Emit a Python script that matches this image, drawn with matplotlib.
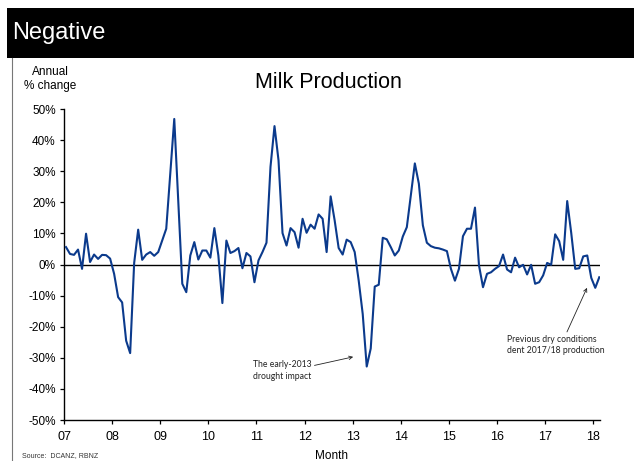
import numpy as np
import matplotlib
matplotlib.use("Agg")
import matplotlib.pyplot as plt
from matplotlib.patches import Rectangle
from matplotlib.lines import Line2D

plt.rcParams['font.family'] = ['Liberation Sans', 'DejaVu Sans']

# Annual % change in milk production, monthly from January 2007
start_year = 2007
milk_growth = [
    5.6, 3.4, 3.1, 4.8, -1.4, 9.9, 0.8, 3.2, 1.8, 3.1, 3.0, 1.9,
    -3.0, -10.5, -12.2, -24.5, -28.5, 0.5, 11.2, 1.5, 3.2, 4.0, 2.8, 4.0,
    7.7, 11.5, 29.0, 46.8, 20.6, -6.2, -8.9, 2.9, 7.2, 1.6, 4.5, 4.5,
    2.2, 11.7, 2.9, -12.4, 7.7, 3.7, 4.3, 5.3, -1.2, 3.7, 2.6, -5.7,
    1.3, 4.0, 7.0, 31.4, 44.5, 33.5, 10.1, 6.1, 11.7, 10.4, 5.4, 14.7,
    10.2, 12.8, 11.5, 16.1, 14.7, 4.0, 21.9, 14.2, 5.3, 3.2, 8.0, 7.2,
    4.0, -5.2, -15.9, -32.8, -27.0, -7.1, -6.5, 8.6, 8.1, 5.6, 2.9, 4.5,
    9.0, 12.0, 22.3, 32.5, 26.0, 12.6, 7.0, 5.9, 5.4, 5.2, 4.8, 4.3,
    -1.4, -5.2, -1.4, 9.1, 11.5, 11.5, 18.3, -0.3, -7.3, -3.0, -2.5, -1.4,
    -0.5, 3.2, -1.6, -2.5, 2.2, -0.9, -0.1, -3.2, -0.1, -6.2, -5.7, -3.5,
    0.5, -0.1, 9.7, 7.5, 1.5, 20.4, 10.2, -1.4, -1.2, 2.6, 2.9, -4.3,
    -7.5, -4.1,
]

year_ticks = list(range(2007, 2019))
year_labels = ['07', '08', '09', '10', '11', '12', '13', '14', '15', '16', '17', '18']
pct_ticks = [-50, -40, -30, -20, -10, 0, 10, 20, 30, 40, 50]
pct_labels = ['-50%', '-40%', '-30%', '-20%', '-10%', '0%', '10%', '20%', '30%', '40%', '50%']

W, H = 634, 461
fig = plt.figure(figsize=(W / 100, H / 100), dpi=100)

# Slide header band and left frame line
fig.patches.append(Rectangle((7 / W, 1 - 58 / H), 1 - 7 / W, 50 / H,
                             transform=fig.transFigure, facecolor='black',
                             edgecolor='none', zorder=0))
fig.text(12 / W, 1 - 33 / H, 'Negative', color='white', fontsize=17,
         ha='left', va='center')
fig.lines.append(Line2D([12 / W, 12 / W], [0, 1 - 58 / H],
                        transform=fig.transFigure, color='#777777', lw=0.8))

ax = fig.add_axes([64 / W, 1 - 420 / H, (600 - 64) / W, (420 - 109) / H])

months = np.arange(len(milk_growth))
x = start_year + (months + 0.5) / 12
ax.plot(x, milk_growth, color='#0b3a8c', lw=1.5, zorder=3)
ax.axhline(0, color='black', lw=1.0, zorder=2)

ax.set_xlim(2007, 2018.14)
ax.set_ylim(-50, 50)
ax.set_xticks(year_ticks)
ax.set_xticklabels(year_labels)
ax.set_yticks(pct_ticks)
ax.set_yticklabels(pct_labels)
ax.tick_params(axis='both', direction='out', length=3, width=0.9,
               labelsize=8.5, colors='black', pad=3)
ax.tick_params(axis='x', labelsize=9, pad=5)
for side in ('top', 'right'):
    ax.spines[side].set_visible(False)
for side in ('left', 'bottom'):
    ax.spines[side].set_linewidth(1.0)
    ax.spines[side].set_color('black')

ax.set_xlabel('Month', fontsize=8.5, labelpad=5)

fig.text(328 / W, 1 - 82 / H, 'Milk Production', fontsize=15.5,
         ha='center', va='center')
fig.text(50 / W, 1 - 79 / H, 'Annual\n% change', fontsize=8.5,
         ha='center', va='center', linespacing=1.25)
fig.text(22 / W, 1 - 456 / H, 'Source:  DCANZ, RBNZ', fontsize=5,
         ha='left', va='center', color='#333333')

note_font = ['Lato', 'DejaVu Sans']
ax.annotate('The early-2013\ndrought impact',
            xy=(2013.01, -29.7), xytext=(2010.93, -34.0),
            fontsize=6.2, family=note_font, color='#222222',
            ha='left', va='center', linespacing=1.45,
            arrowprops=dict(arrowstyle='->', color='#222222', lw=0.6,
                            shrinkA=0, shrinkB=0,
                            relpos=(1.0, 0.7)))
ax.annotate('Previous dry conditions\ndent 2017/18 production',
            xy=(2017.87, -7.5), xytext=(2016.21, -25.8),
            fontsize=6.2, family=note_font, color='#222222',
            ha='left', va='center', linespacing=1.3,
            arrowprops=dict(arrowstyle='->', color='#222222', lw=0.6,
                            shrinkA=0, shrinkB=0, relpos=(0.6, 1.0)))

fig.savefig('out.png', dpi=100)
